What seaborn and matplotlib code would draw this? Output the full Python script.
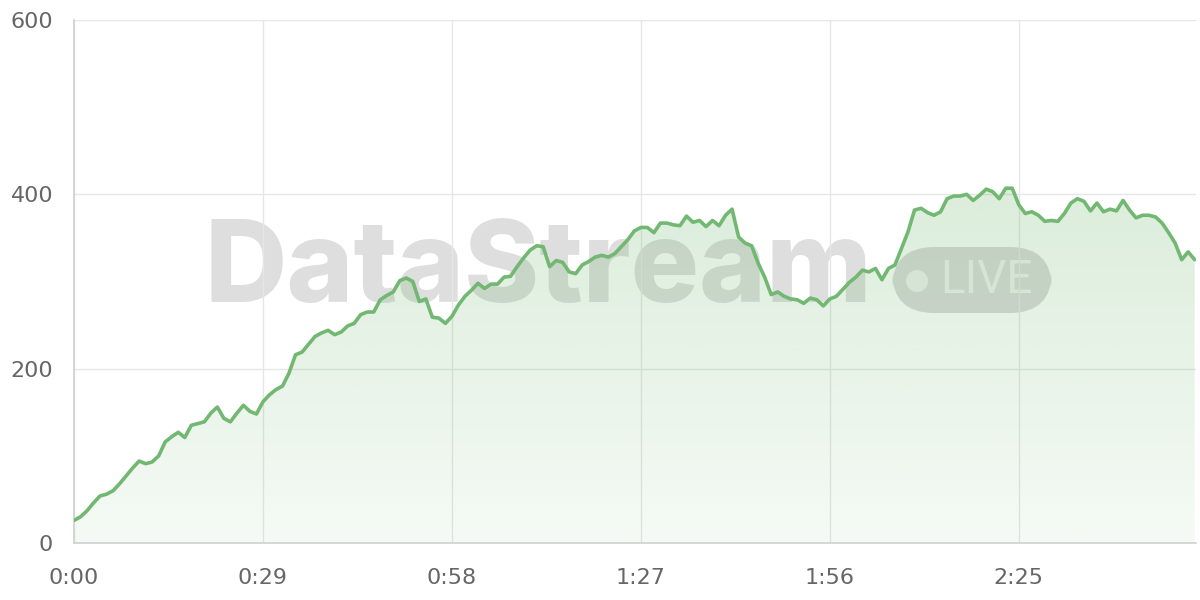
import numpy as np
import pandas as pd
import matplotlib
matplotlib.use('Agg')
import matplotlib.pyplot as plt
import matplotlib.colors as mcolors
from matplotlib.patches import FancyBboxPatch, Ellipse
import seaborn as sns

# one sample per second
values = [26, 30, 37, 46, 54, 56, 60, 68, 77, 86,
          94, 91, 93, 100, 116, 122, 127, 121, 135, 137,
          139, 149, 156, 143, 139, 149, 158, 151, 148, 162,
          170, 176, 180, 195, 216, 219, 228, 237, 241, 244,
          239, 242, 249, 252, 262, 265, 265, 279, 284, 288,
          301, 304, 300, 277, 280, 259, 258, 252, 260, 273,
          283, 290, 298, 292, 297, 297, 305, 306, 317, 327,
          336, 341, 340, 317, 324, 322, 311, 309, 319, 323,
          328, 330, 328, 332, 340, 348, 358, 362, 362, 356,
          367, 367, 365, 364, 375, 368, 370, 363, 370, 364,
          376, 383, 351, 344, 341, 321, 305, 285, 288, 283,
          280, 279, 275, 281, 279, 272, 280, 283, 291, 299,
          305, 313, 311, 315, 302, 315, 319, 338, 357, 382,
          384, 379, 376, 380, 395, 398, 398, 400, 393, 399,
          406, 403, 395, 407, 407, 388, 378, 380, 376, 369,
          370, 369, 378, 390, 395, 392, 381, 390, 380, 383,
          381, 393, 382, 373, 376, 376, 374, 367, 356, 344,
          325, 334, 325]
x_ticks = [0, 29, 58, 87, 116, 145]
x_labels = ['0:00', '0:29', '0:58', '1:27', '1:56', '2:25']
y_ticks = [0, 200, 400, 600]

line_col = '#72b872'
grid_col = '#e6e6e6'
text_col = '#666666'

df = pd.DataFrame({'t': np.arange(len(values)), 'v': values})

sns.set_theme(style='white')
plt.rcParams['font.family'] = ['DejaVu Sans']

fig = plt.figure(figsize=(12, 6), dpi=100)
ax = fig.add_axes([74 / 1200, 57 / 600, 1122 / 1200, 523 / 600])
ax.patch.set_visible(False)

# gradient under the line
poly = ax.fill_between(df.t, df.v, 0, color='none', lw=0)
grad = np.zeros((256, 1, 4))
grad[..., :3] = mcolors.to_rgb(line_col)
grad[:, 0, 3] = np.linspace(0.07, 0.26, 256)
img = ax.imshow(grad, extent=[0, len(values) - 1, 0, 420], origin='lower',
                aspect='auto', zorder=1)
img.set_clip_path(poly.get_paths()[0], transform=ax.transData)

sns.lineplot(data=df, x='t', y='v', ax=ax, color=line_col, lw=2.6, zorder=3)

ax.set_xlim(0, len(values) - 0.8)
ax.set_ylim(0, 600)
ax.set_xticks(x_ticks)
ax.set_xticklabels(x_labels)
ax.set_yticks(y_ticks)
ax.set_xlabel('')
ax.set_ylabel('')
ax.grid(True, color=grid_col, lw=1)
for s in ['top', 'right']:
    ax.spines[s].set_visible(False)
for s in ['left', 'bottom']:
    ax.spines[s].set_color('#d0d0d0')
    ax.spines[s].set_linewidth(1.2)
ax.tick_params(axis='both', length=11, width=1, color=grid_col,
               labelsize=16, labelcolor=text_col, pad=4)
ax.tick_params(axis='x', pad=7)

# watermark, sits behind the chart
wm = '#dedede'
fig.text(538 / 1200, 1 - 272 / 600, 'DataStream', ha='center', va='center',
         fontsize=82, fontweight='heavy', family='Inter',
         color=wm, zorder=-2)
badge = FancyBboxPatch((892 / 1200, 1 - 313 / 600), 160 / 1200, 66 / 600,
                       boxstyle='round,pad=0,rounding_size=0.035',
                       transform=fig.transFigure, facecolor='#d9d9d9',
                       edgecolor='none', zorder=-2, mutation_aspect=2)
fig.patches.append(badge)
fig.patches.append(Ellipse((917 / 1200, 1 - 281 / 600), 22 / 1200, 22 / 600,
                           transform=fig.transFigure, facecolor='#f0f0f0',
                           edgecolor='none', zorder=-1))
fig.text(986 / 1200, 1 - 280 / 600, 'LIVE', ha='center', va='center',
         fontsize=33, family='Roboto', color='#f0f0f0', zorder=-1)

fig.savefig('out.png', dpi=100)
